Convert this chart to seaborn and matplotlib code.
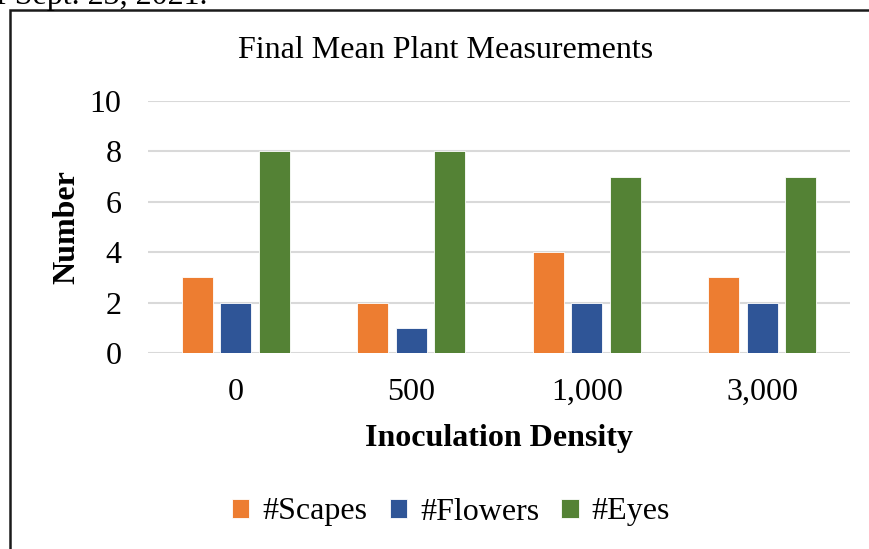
import pandas as pd
import matplotlib.pyplot as plt
import seaborn as sns
from matplotlib.patches import Rectangle

# values
densities = ['0', '500', '1,000', '3,000']
scapes = [3, 2, 4, 3]
flowers = [2, 1, 2, 2]
eyes = [8, 8, 7, 7]
series_names = ['#Scapes', '#Flowers', '#Eyes']

df = pd.DataFrame({
    'density': densities * 3,
    'measure': [n for n in series_names for _ in densities],
    'value': scapes + flowers + eyes,
})

palette = {'#Scapes': '#ED7D31', '#Flowers': '#2F5597', '#Eyes': '#548235'}

sns.set_style('white')
plt.rcParams['font.family'] = ['Liberation Serif', 'DejaVu Serif']
plt.rcParams['text.color'] = 'black'
plt.rcParams['axes.labelcolor'] = 'black'
plt.rcParams['xtick.color'] = 'black'
plt.rcParams['ytick.color'] = 'black'

W, H = 870, 549
fig = plt.figure(figsize=(W / 100, H / 100), dpi=100)
ax = fig.add_axes([148 / W, 1 - 353 / H, (850 - 148) / W, (353 - 101) / H])

sns.barplot(data=df, x='density', y='value', hue='measure', palette=palette,
            hue_order=series_names, order=densities, width=0.66, gap=0.2,
            saturation=1, edgecolor='white', linewidth=0.6, ax=ax, zorder=3)

ax.set_ylim(0, 10)
ax.set_yticks([0, 2, 4, 6, 8, 10])
ax.set_xlim(-0.5, 3.5)
ax.grid(axis='y', color='#d9d9d9', linewidth=1.5, zorder=0)
ax.set_axisbelow(True)
for s in ax.spines.values():
    s.set_visible(False)
ax.tick_params(axis='y', labelsize=23, pad=19, length=0)
ax.tick_params(axis='x', labelsize=23, pad=18, length=0)
ax.set_xlabel('Inoculation Density', fontsize=23, fontweight='bold', labelpad=12)
ax.set_ylabel('Number', fontsize=23, fontweight='bold', labelpad=6)

fig.text(446 / W, 1 - 51 / H, 'Final Mean Plant Measurements', ha='center',
         va='center', fontsize=23)

ax.legend(loc='center', bbox_to_anchor=(451 / W, 1 - 512 / H),
          bbox_transform=fig.transFigure, ncol=3, frameon=False, fontsize=23,
          handlelength=0.55, handleheight=0.55, handletextpad=0.4, columnspacing=0.7)

# chart frame and clipped caption from the page above
fig.patches.append(Rectangle((10 / W, -0.1), 1.1, 1 - 10 / H + 0.1,
                             transform=fig.transFigure, fill=False,
                             edgecolor='#1a1a1a', linewidth=1.8))
fig.text(-4 / W, 1 - 4 / H, 'f Sept. 23, 2021.', ha='left', va='baseline',
         fontsize=23)

fig.savefig('out.png', dpi=100)
